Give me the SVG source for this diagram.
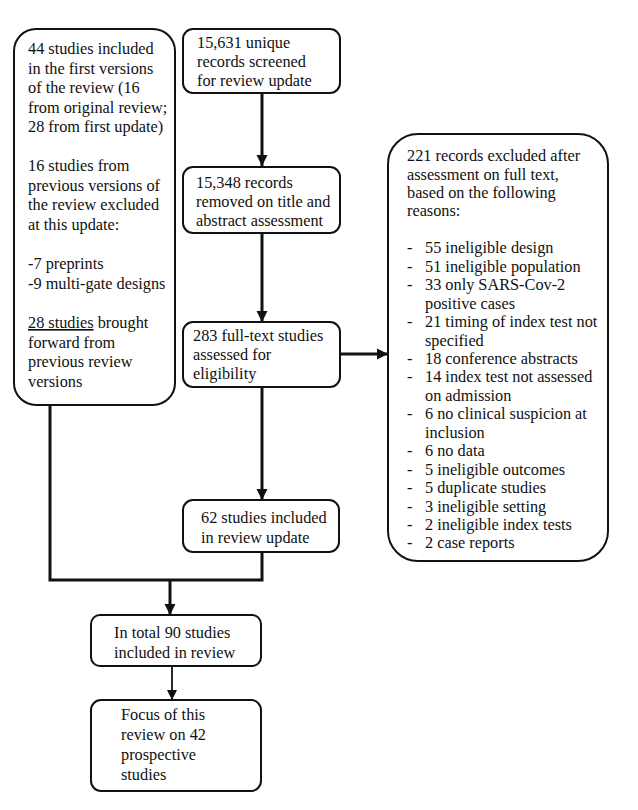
<svg xmlns="http://www.w3.org/2000/svg" width="638" height="810" viewBox="0 0 638 810">
<defs>
<style>
.box{fill:#fff;stroke:#111;stroke-width:2}
.t{font-size:16.3px;fill:#111}
.c{fill:none;stroke:#111;stroke-width:3}
.c2{fill:none;stroke:#111;stroke-width:1.8}
</style>
<marker id="ah" markerWidth="10" markerHeight="10" viewBox="0 0 10 10" refX="10" refY="5" orient="auto" markerUnits="userSpaceOnUse">
<path d="M0,0 L10,5 L0,10 Z" fill="#111"/>
</marker>
<marker id="ah2" markerWidth="11" markerHeight="12" viewBox="0 0 10 10" refX="10" refY="5" orient="auto" markerUnits="userSpaceOnUse">
<path d="M0,0 L10,5 L0,10 Z" fill="#111"/>
</marker>
</defs>
<rect width="638" height="810" fill="#fff"/>
<g id="connectors">
<line class="c" x1="262" y1="94" x2="262" y2="166" marker-end="url(#ah2)"/>
<line class="c" x1="262" y1="234" x2="262" y2="322" marker-end="url(#ah2)"/>
<line class="c" x1="262" y1="387" x2="262" y2="500" marker-end="url(#ah2)"/>
<line class="c" x1="340" y1="354" x2="388" y2="354" marker-end="url(#ah2)"/>
<polyline class="c" points="50,405 50,580 262,580 262,552"/>
<line class="c" x1="170" y1="580" x2="170" y2="615" marker-end="url(#ah2)"/>
<line class="c2" x1="172" y1="666" x2="172" y2="700" marker-end="url(#ah)"/>
</g>
<g font-family="Liberation Serif, Tinos, Times, DejaVu Serif, serif">
<g id="n_previous">
<rect class="box" x="14" y="29" width="161" height="376" rx="22"/>
<text class="t" x="28">
<tspan x="28" y="54">44 studies included</tspan>
<tspan x="28" y="73.5">in the first versions</tspan>
<tspan x="28" y="93">of the review (16</tspan>
<tspan x="28" y="112.5">from original review;</tspan>
<tspan x="28" y="132">28 from first update)</tspan>
<tspan x="28" y="171">16 studies from</tspan>
<tspan x="28" y="190.5">previous versions of</tspan>
<tspan x="28" y="210">the review excluded</tspan>
<tspan x="28" y="229.5">at this update:</tspan>
<tspan x="28" y="269">-7 preprints</tspan>
<tspan x="28" y="288.5">-9 multi-gate designs</tspan>
<tspan x="28" y="328"><tspan text-decoration="underline">28 studies</tspan> brought</tspan>
<tspan x="28" y="347.5">forward from</tspan>
<tspan x="28" y="367">previous review</tspan>
<tspan x="28" y="386.5">versions</tspan>
</text>
</g>
<g id="n_screened">
<rect class="box" x="183" y="29" width="157" height="64" rx="10"/>
<text class="t"><tspan x="197" y="48">15,631 unique</tspan><tspan x="197" y="67">records screened</tspan><tspan x="197" y="86">for review update</tspan></text>
</g>
<g id="n_removed">
<rect class="box" x="183" y="167" width="157" height="66" rx="10"/>
<text class="t"><tspan x="196" y="188">15,348 records</tspan><tspan x="196" y="207">removed on title and</tspan><tspan x="196" y="226">abstract assessment</tspan></text>
</g>
<g id="n_fulltext">
<rect class="box" x="183" y="322" width="157" height="65" rx="10"/>
<text class="t"><tspan x="193" y="341">283 full-text studies</tspan><tspan x="193" y="360">assessed for</tspan><tspan x="193" y="379">eligibility</tspan></text>
</g>
<g id="n_excluded">
<rect class="box" x="388" y="134" width="220" height="427" rx="30"/>
<text class="t">
<tspan x="407" y="161">221 records excluded after</tspan>
<tspan x="407" y="179.5">assessment on full text,</tspan>
<tspan x="407" y="198">based on the following</tspan>
<tspan x="407" y="216.4">reasons:</tspan>
</text>
<text class="t">
<tspan x="407" y="253.3">-</tspan><tspan x="425" y="253.3">55 ineligible design</tspan>
<tspan x="407" y="271.7">-</tspan><tspan x="425" y="271.7">51 ineligible population</tspan>
<tspan x="407" y="290.2">-</tspan><tspan x="425" y="290.2">33 only SARS-Cov-2</tspan>
<tspan x="425" y="308.6">positive cases</tspan>
<tspan x="407" y="327">-</tspan><tspan x="425" y="327">21 timing of index test not</tspan>
<tspan x="425" y="345.5">specified</tspan>
<tspan x="407" y="364">-</tspan><tspan x="425" y="364">18 conference abstracts</tspan>
<tspan x="407" y="382.4">-</tspan><tspan x="425" y="382.4">14 index test not assessed</tspan>
<tspan x="425" y="400.8">on admission</tspan>
<tspan x="407" y="419.3">-</tspan><tspan x="425" y="419.3">6 no clinical suspicion at</tspan>
<tspan x="425" y="437.7">inclusion</tspan>
<tspan x="407" y="456.1">-</tspan><tspan x="425" y="456.1">6 no data</tspan>
<tspan x="407" y="474.6">-</tspan><tspan x="425" y="474.6">5 ineligible outcomes</tspan>
<tspan x="407" y="493">-</tspan><tspan x="425" y="493">5 duplicate studies</tspan>
<tspan x="407" y="511.5">-</tspan><tspan x="425" y="511.5">3 ineligible setting</tspan>
<tspan x="407" y="530">-</tspan><tspan x="425" y="530">2 ineligible index tests</tspan>
<tspan x="407" y="548.4">-</tspan><tspan x="425" y="548.4">2 case reports</tspan>
</text>
</g>
<g id="n_included_update">
<rect class="box" x="183" y="500" width="156" height="52" rx="10"/>
<text class="t"><tspan x="201" y="523">62 studies included</tspan><tspan x="201" y="543">in review update</tspan></text>
</g>
<g id="n_total">
<rect class="box" x="91" y="615" width="170" height="51" rx="9"/>
<text class="t"><tspan x="114" y="638">In total 90 studies</tspan><tspan x="114" y="658">included in review</tspan></text>
</g>
<g id="n_focus">
<rect class="box" x="91" y="700" width="170" height="91" rx="10"/>
<text class="t"><tspan x="121" y="720">Focus of this</tspan><tspan x="121" y="740">review on 42</tspan><tspan x="121" y="760">prospective</tspan><tspan x="121" y="780">studies</tspan></text>
</g>
</g>
</svg>
